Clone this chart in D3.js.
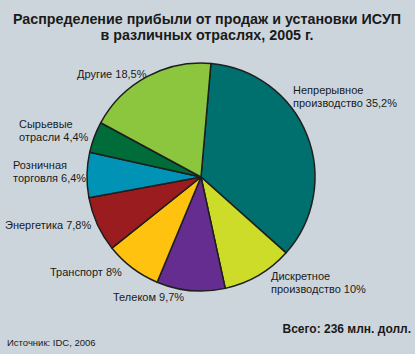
<!DOCTYPE html>
<html>
<head>
<meta charset="utf-8">
<script src="https://cdn.jsdelivr.net/npm/d3@7"></script>
<style>
	body { margin: 0; background: #cdd5dc; }
	svg { display: block; font-family: "Liberation Sans", Arial, sans-serif; }
</style>
</head>
<body>
<svg width="415" height="354"></svg>
<script>
// Data, clockwise from the top
var sectors = ['Непрерывное производство', 'Дискретное производство', 'Телеком', 'Транспорт',
	'Энергетика', 'Розничная торговля', 'Сырьевые отрасли', 'Другие'];
var shares = [35.2, 10, 9.7, 8, 7.8, 6.4, 4.4, 18.5];
var shareLabels = ['35,2%', '10%', '9,7%', '8%', '7,8%', '6,4%', '4,4%', '18,5%'];
var colors = ['#00706e', '#cddc28', '#662d91', '#ffc20e', '#9b1c1f', '#0093b6', '#006c3a', '#8cc63e'];

// label lines and where they sit
var labelLines = [
	['Непрерывное', 'производство ' + shareLabels[0]],
	['Дискретное', 'производство ' + shareLabels[1]],
	['Телеком ' + shareLabels[2]],
	['Транспорт ' + shareLabels[3]],
	['Энергетика ' + shareLabels[4]],
	['Розничная', 'торговля ' + shareLabels[5]],
	['Сырьевые', 'отрасли ' + shareLabels[6]],
	['Другие ' + shareLabels[7]]
];
var labelPos = [[293, 94], [271, 280], [113, 301], [50, 276], [5, 229], [13, 169], [19, 128], [77, 78]];

var svg = d3.select('svg'),
	width = +svg.attr('width'),
	cx = 201,
	cy = 177,
	radius = 114;

svg.append('rect').attr('width', width).attr('height', +svg.attr('height')).attr('fill', '#cdd5dc');

var title = svg.append('text')
	.attr('text-anchor', 'middle')
	.attr('font-weight', 'bold')
	.attr('font-size', 14.3)
	.attr('fill', '#1a1a1a');
title.append('tspan').attr('x', 207).attr('y', 24).text('Распределение прибыли от продаж и установки ИСУП');
title.append('tspan').attr('x', 207).attr('y', 40).text('в различных отраслях, 2005 г.');

var startAngle = 5 * Math.PI / 180;
var pie = d3.pie()
	.sort(null)
	.value(function(d) { return d; })
	.startAngle(startAngle)
	.endAngle(startAngle + 2 * Math.PI);

var arc = d3.arc().innerRadius(0).outerRadius(radius);

var g = svg.append('g').attr('transform', 'translate(' + cx + ',' + cy + ')');

g.selectAll('path')
	.data(pie(shares))
	.enter().append('path')
	.attr('d', arc)
	.attr('fill', function(d, i) { return colors[i]; })
	.attr('stroke', '#1e1e1e')
	.attr('stroke-width', 1.5)
	.attr('stroke-linejoin', 'round');

// labels
svg.selectAll('.lbl')
	.data(labelLines)
	.enter().append('text')
	.attr('class', 'lbl')
	.attr('font-size', 11)
	.attr('fill', '#1a1a1a')
	.each(function(lines, i) {
		var t = d3.select(this);
		lines.forEach(function(s, k) {
			t.append('tspan')
				.attr('x', labelPos[i][0])
				.attr('y', labelPos[i][1] + k * 13)
				.text(s);
		});
	});

svg.append('text')
	.attr('x', 411).attr('y', 333)
	.attr('text-anchor', 'end')
	.attr('font-weight', 'bold')
	.attr('font-size', 12)
	.attr('fill', '#1a1a1a')
	.text('Всего: 236 млн. долл.');

svg.append('text')
	.attr('x', 7).attr('y', 346)
	.attr('font-size', 9.5)
	.attr('fill', '#1a1a1a')
	.text('Источник: IDC, 2006');
</script>
</body>
</html>
